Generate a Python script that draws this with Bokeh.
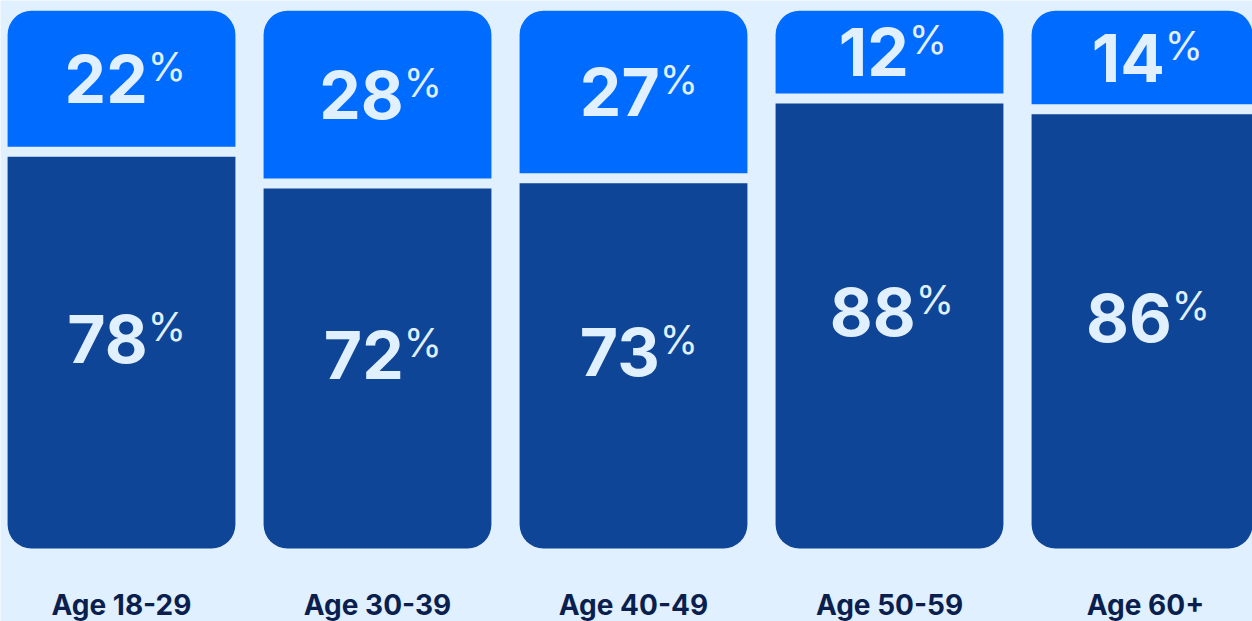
from bokeh.plotting import figure
from bokeh.models import ColumnDataSource, Range1d
from bokeh.core.properties import value
from bokeh.embed import file_html
from bokeh.resources import INLINE

# ---- data ----
groups = ["Age 18-29", "Age 30-39", "Age 40-49", "Age 50-59", "Age 60+"]
top_share = [22, 28, 27, 12, 14]
bottom_share = [78, 72, 73, 88, 86]

# ---- style / layout constants ----
BG = "#E0F0FF"
TOP_COLOR = "#006BFF"
BOTTOM_COLOR = "#0E4597"
NUM_COLOR = "#E0F0FF"
LABEL_COLOR = "#0B1F4F"
FONT = "Inter"
BASE = 4.2      # bottom of every column (data units)
TOP = 105.5     # top of every column
GAP = 1.9       # gap between the two segments
BAR_W = 0.89
RADIUS = 24
NUM_SIZE = 66
PCT_SIZE = 39
LBL_SIZE = 28
SHIFT = 0.42    # renderer baseline correction (fraction of font size)


def digits_width(s):
    return sum((0.40 if ch == "1" else 0.61) * NUM_SIZE for ch in s)


xs = list(range(len(groups)))
top_txt = [str(v) for v in top_share]
bot_txt = [str(v) for v in bottom_share]

src = ColumnDataSource(dict(
    x=xs,
    group=groups,
    b=bottom_share,
    tb=[v + GAP for v in bottom_share],
    base=[BASE] * len(xs),
    top=[TOP] * len(xs),
    top_y=[(v + GAP + TOP) / 2 for v in bottom_share],
    bot_y=[(BASE + v) / 2 for v in bottom_share],
    top_txt=top_txt,
    bot_txt=bot_txt,
    top_off=[3 + digits_width(t) / 2 - 17 for t in top_txt],
    bot_off=[3 + digits_width(t) / 2 - 17 for t in bot_txt],
    top_pct_off=[3 + digits_width(t) / 2 - 17 for t in top_txt],
    bot_pct_off=[3 + digits_width(t) / 2 - 17 for t in bot_txt],
    pct=["%"] * len(xs),
))

num_dy = -SHIFT * NUM_SIZE
pct_dy = -SHIFT * PCT_SIZE
lbl_dy = -SHIFT * LBL_SIZE

x0 = -121 / 256
p = figure(width=1252, height=621, output_backend="svg", toolbar_location=None,
           x_range=Range1d(x0, x0 + 1252 / 256), y_range=Range1d(-9.53, 107.42),
           min_border=0, background_fill_color=BG, border_fill_color=BG,
           outline_line_color=None)
p.axis.visible = False
p.grid.visible = False

p.vbar(x="x", width=BAR_W, bottom="tb", top="top", source=src,
       fill_color=TOP_COLOR, line_color=None, border_radius=(RADIUS, RADIUS, 0, 0))
p.vbar(x="x", width=BAR_W, bottom="base", top="b", source=src,
       fill_color=BOTTOM_COLOR, line_color=None, border_radius=(0, 0, RADIUS, RADIUS))

# top segment numbers
p.text(x="x", y="top_y", text="top_txt", source=src, x_offset="top_off", y_offset=28 + num_dy,
       text_align="right", text_baseline="alphabetic", text_color=NUM_COLOR,
       text_font=value(FONT), text_font_style="bold", text_font_size=f"{NUM_SIZE}px")
p.text(x="x", y="top_y", text="pct", source=src, x_offset="top_pct_off", y_offset=4 + pct_dy,
       text_align="left", text_baseline="alphabetic", text_color=NUM_COLOR,
       text_font=value(FONT), text_font_size=f"{PCT_SIZE}px")

# bottom segment numbers
p.text(x="x", y="bot_y", text="bot_txt", source=src, x_offset="bot_off", y_offset=14 + num_dy,
       text_align="right", text_baseline="alphabetic", text_color=NUM_COLOR,
       text_font=value(FONT), text_font_style="bold", text_font_size=f"{NUM_SIZE}px")
p.text(x="x", y="bot_y", text="pct", source=src, x_offset="bot_pct_off", y_offset=-10 + pct_dy,
       text_align="left", text_baseline="alphabetic", text_color=NUM_COLOR,
       text_font=value(FONT), text_font_size=f"{PCT_SIZE}px")

# category labels
p.text(x="x", y="base", text="group", source=src, y_offset=68 + lbl_dy,
       text_align="center", text_baseline="alphabetic", text_color=LABEL_COLOR,
       text_font=value(FONT), text_font_style="bold", text_font_size=f"{LBL_SIZE}px")

open("out.html", "w").write(file_html(p, INLINE))
